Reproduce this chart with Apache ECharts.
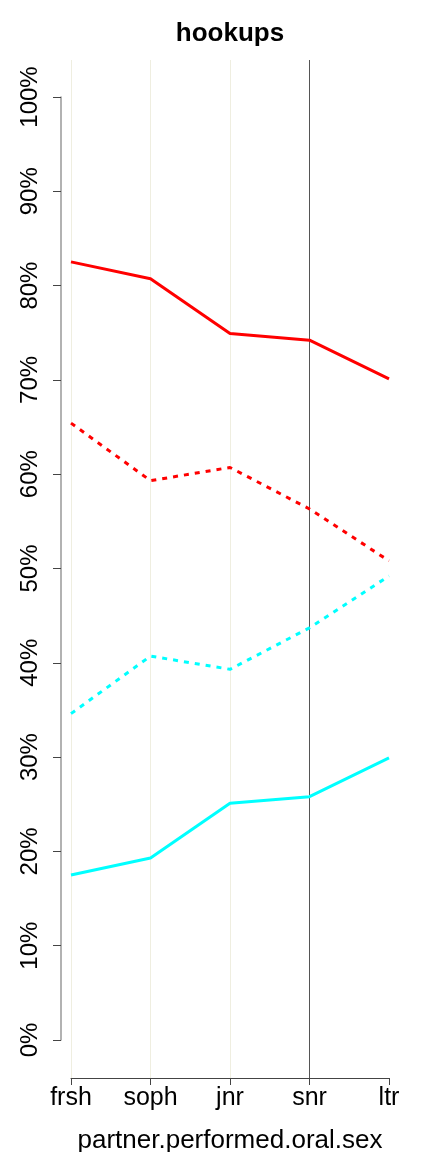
<!DOCTYPE html>
<html><head><meta charset="utf-8">
<script src="https://cdn.jsdelivr.net/npm/echarts@6/dist/echarts.min.js"></script>
<style>html,body{margin:0;padding:0;background:#fff}#c{width:432px;height:1152px}</style>
</head><body><div id="c"></div>
<script>
const categories = ['frsh','soph','jnr','snr','ltr'];
const redSolid   = [82.5, 80.7, 74.9, 74.2, 70.1];
const redDashed  = [65.4, 59.3, 60.7, 56.3, 50.8];
const cyanDashed = [34.6, 40.7, 39.3, 43.7, 49.2];
const cyanSolid  = [17.5, 19.3, 25.1, 25.8, 29.9];

const font = 'Liberation Sans, Arial, Helvetica, sans-serif';
const chart = echarts.init(document.getElementById('c'), null, {renderer:'canvas'});
function ln(data, color, dashed){
  return {type:'line', data, xAxisIndex:0, yAxisIndex:0, symbol:'none', silent:true,
    lineStyle:{color, width:3, type: dashed ? [5,6] : 'solid'}};
}
chart.setOption({
  animation:false,
  title:{text:'hookups', left:225, top:16, textAlign:'center',
    textStyle:{fontFamily:font, fontSize:26, fontWeight:'bold', color:'#000'}},
  grid:[
    {left:71, right:43, top:60, bottom:74, containLabel:false, outerBoundsMode:'none'},
    {left:61, width:10, top:97, bottom:112, containLabel:false, outerBoundsMode:'none'}
  ],
  xAxis:[
    {type:'category', gridIndex:0, data:categories, boundaryGap:false,
     axisLine:{onZero:false, lineStyle:{color:'#444', width:1}},
     axisTick:{show:true, length:7, lineStyle:{color:'#444'}},
     axisLabel:{fontFamily:font, fontSize:25, color:'#000', margin:8},
     splitLine:{show:true, lineStyle:{width:1, color:['#efeee0','#efeee0','#efeee0','#555555','rgba(0,0,0,0)']}},
     name:'partner.performed.oral.sex', nameLocation:'middle', nameGap:50,
     nameTextStyle:{fontFamily:font, fontSize:26, color:'#000'}},
    {type:'value', gridIndex:1, show:false}
  ],
  yAxis:[
    {type:'value', gridIndex:0, min:-4.03, max:103.9, show:false},
    {type:'value', gridIndex:1, min:0, max:100, interval:10,
     axisLine:{show:true, lineStyle:{color:'#999', width:1.5}},
     axisTick:{show:true, length:8, lineStyle:{color:'#444'}},
     splitLine:{show:false},
     axisLabel:{rotate:90, fontFamily:font, fontSize:24, color:'#000', margin:19,
       formatter: v => v + '%'}}
  ],
  series:[
    ln(redSolid,'#ff0000',false),
    ln(redDashed,'#ff0000',true),
    ln(cyanDashed,'#00ffff',true),
    ln(cyanSolid,'#00ffff',false)
  ]
});
</script></body></html>
